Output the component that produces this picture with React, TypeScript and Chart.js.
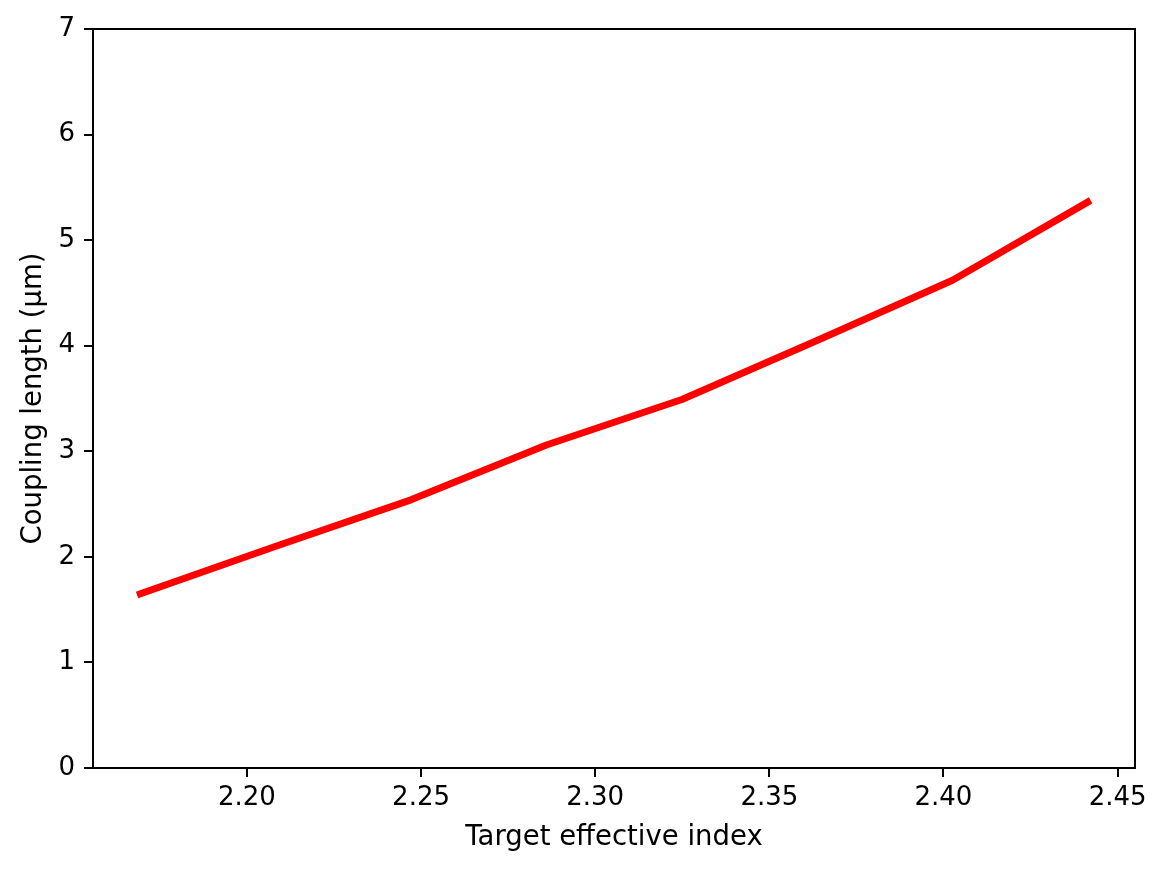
import React, { useEffect, useRef } from "react";
import { Chart, registerables } from "chart.js";

Chart.register(...registerables);

const effectiveIndex = [2.1694, 2.2083, 2.2471, 2.286, 2.3249, 2.3637, 2.4026, 2.4414];
const couplingLength = [1.65, 2.1, 2.54, 3.06, 3.49, 4.05, 4.62, 5.36];
const xTicks = [2.2, 2.25, 2.3, 2.35, 2.4, 2.45];
const yTicks = [0, 1, 2, 3, 4, 5, 6, 7];
const xLabel = "Target effective index";
const yLabel = "Coupling length (µm)";

const FONT = "'DejaVu Sans', sans-serif";
const FS = 26;
const TFS = 27.5;

const framePlugin = {
  id: "frame",
  afterDraw(chart: any) {
    const { ctx, chartArea } = chart;
    const { left, right, top, bottom } = chartArea;
    ctx.save();
    ctx.strokeStyle = "#000";
    ctx.lineWidth = 2;
    ctx.strokeRect(left, top, right - left, bottom - top);
    ctx.restore();
  },
};

export default function App() {
  const ref = useRef<HTMLCanvasElement | null>(null);
  useEffect(() => {
    document.body.style.margin = "0";
    const canvas = ref.current;
    if (!canvas) return;
    const chart = new Chart(canvas, {
      type: "line",
      data: {
        datasets: [
          {
            data: effectiveIndex.map((x, i) => ({ x, y: couplingLength[i] })),
            borderColor: "#ff0000",
            borderWidth: 7,
            pointRadius: 0,
            tension: 0,
            fill: false,
            borderCapStyle: "square",
            borderJoinStyle: "round",
          },
        ],
      },
      options: {
        animation: false,
        responsive: true,
        maintainAspectRatio: false,
        devicePixelRatio: 1,
        layout: { autoPadding: false, padding: { left: 0, top: 29, right: 36, bottom: 0 } },
        plugins: { legend: { display: false }, tooltip: { enabled: false } },
        scales: {
          x: {
            type: "linear",
            min: 2.1558,
            max: 2.455,
            afterFit: (s: any) => {
              s.height = 103;
            },
            afterBuildTicks: (s: any) => {
              s.ticks = xTicks.map((v) => ({ value: v }));
            },
            grid: {
              drawOnChartArea: false,
              drawTicks: true,
              tickLength: 9,
              color: "#000",
              lineWidth: 2,
            },
            border: { display: false },
            ticks: {
              color: "#000",
              font: { family: FONT, size: FS },
              padding: 6,
              maxRotation: 0,
              autoSkip: false,
              callback: (v: any) => Number(v).toFixed(2),
            },
            title: {
              display: true,
              text: xLabel,
              color: "#000",
              font: { family: FONT, size: TFS },
              padding: { top: 0, bottom: 17 },
            },
          },
          y: {
            type: "linear",
            min: 0,
            max: 7,
            afterFit: (s: any) => {
              s.width = 93;
            },
            afterBuildTicks: (s: any) => {
              s.ticks = yTicks.map((v) => ({ value: v }));
            },
            grid: {
              drawOnChartArea: false,
              drawTicks: true,
              tickLength: 9,
              color: "#000",
              lineWidth: 2,
            },
            border: { display: false },
            ticks: {
              color: "#000",
              font: { family: FONT, size: FS },
              padding: 9,
              autoSkip: false,
              callback: (v: any) => String(v),
            },
            title: {
              display: true,
              text: yLabel,
              color: "#000",
              font: { family: FONT, size: TFS },
              padding: { top: 17, bottom: 0 },
            },
          },
        },
      },
      plugins: [framePlugin],
    });
    return () => chart.destroy();
  }, []);
  return (
    <div style={{ width: 1171, height: 871, position: "relative", background: "#fff" }}>
      <canvas ref={ref} />
    </div>
  );
}
